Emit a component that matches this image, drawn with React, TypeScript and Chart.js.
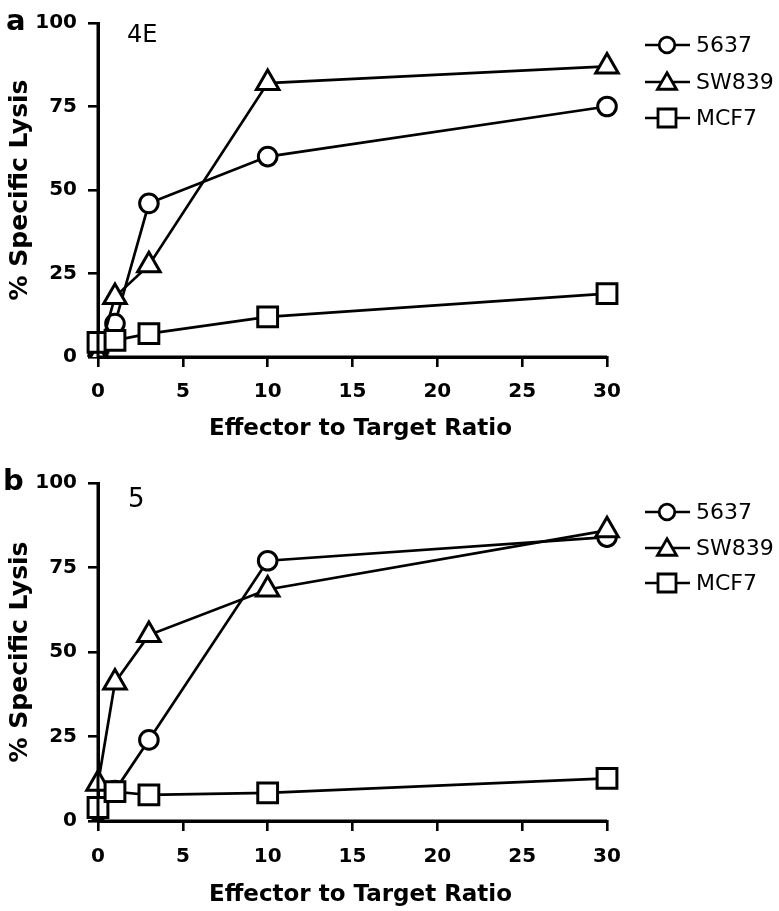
import React, { useEffect, useRef } from "react";
import { Chart, registerables } from "chart.js";

Chart.register(...registerables);

// ---------- data ----------
const ratios = [0, 1, 3, 10, 30];
const seriesNames = ["5637", "SW839", "MCF7"];

const panelA5637 = [0, 10, 46, 60, 75];
const panelASW839 = [0, 18, 27.5, 82, 87];
const panelAMCF7 = [4.4, 5, 7, 12, 19];

const panelB5637 = [3, 9, 24, 77, 84];
const panelBSW839 = [11, 41, 55, 68.5, 86];
const panelBMCF7 = [4, 8.7, 7.7, 8.3, 12.6];

const xTickValues = [0, 5, 10, 15, 20, 25, 30];
const yTickValues = [0, 25, 50, 75, 100];

const panelLetters = ["a", "b"];
const panelTags = ["4E", "5"];
const xTitle = "Effector to Target Ratio";
const yTitle = "% Specific Lysis";

// ---------- styling / layout ----------
const FONT = "DejaVu Sans";
const W = 779;

const markerStyles = [
  { pointStyle: "circle", radius: 9.3, legendSize: 7.8 },
  { pointStyle: "triangle", radius: 13, legendSize: 11 },
  { pointStyle: "rect", radius: 14, legendSize: 9 },
];

const panels = [
  {
    top: 0,
    height: 460,
    areaTop: 17,
    areaBottom: 357,
    tickPad: 13,
    titlePadBottom: 17,
    letter: { x: 6, y: 30 },
    tag: { x: 127, y: 42, size: 24 },
    legendY: [45, 82, 118],
    series: [panelA5637, panelASW839, panelAMCF7],
  },
  {
    top: 460,
    height: 451,
    areaTop: 23,
    areaBottom: 361,
    tickPad: 14,
    titlePadBottom: 2,
    letter: { x: 3, y: 30 },
    tag: { x: 128, y: 47, size: 26 },
    legendY: [52, 88, 123],
    series: [panelB5637, panelBSW839, panelBMCF7],
  },
];

function drawMarker(ctx: CanvasRenderingContext2D, style: string, x: number, y: number, s: number) {
  ctx.beginPath();
  if (style === "circle") {
    ctx.arc(x, y, s, 0, Math.PI * 2);
  } else if (style === "triangle") {
    const h = s * 1.5;
    const half = (s * Math.sqrt(3)) / 2;
    ctx.moveTo(x, y - h / 2 - 1);
    ctx.lineTo(x + half, y + h / 2 - 1);
    ctx.lineTo(x - half, y + h / 2 - 1);
    ctx.closePath();
  } else {
    ctx.rect(x - s, y - s, 2 * s, 2 * s);
  }
  ctx.fillStyle = "#fff";
  ctx.fill();
  ctx.lineWidth = 2.8;
  ctx.strokeStyle = "#000";
  ctx.stroke();
}

function Panel({ index }: { index: number }) {
  const ref = useRef<HTMLCanvasElement>(null);
  const cfg = panels[index];

  useEffect(() => {
    if (!ref.current) return;
    const overlay = {
      id: "overlay" + index,
      afterDatasetsDraw(chart: any) {
        const { ctx, chartArea } = chart;
        ctx.save();
        // axis lines on top of markers
        ctx.strokeStyle = "#000";
        ctx.lineWidth = 3;
        ctx.beginPath();
        ctx.moveTo(chartArea.left, chartArea.top);
        ctx.lineTo(chartArea.left, chartArea.bottom);
        ctx.moveTo(chartArea.left, chartArea.bottom);
        ctx.lineTo(chartArea.right, chartArea.bottom);
        ctx.stroke();

        // panel letter
        ctx.fillStyle = "#000";
        ctx.textBaseline = "alphabetic";
        ctx.textAlign = "left";
        ctx.font = `bold 29px "${FONT}"`;
        ctx.fillText(panelLetters[index], cfg.letter.x, cfg.letter.y);
        // tag
        ctx.font = `${cfg.tag.size}px "${FONT}"`;
        ctx.fillText(panelTags[index], cfg.tag.x, cfg.tag.y);

        // legend
        seriesNames.forEach((name, i) => {
          const y = cfg.legendY[i];
          ctx.strokeStyle = "#000";
          ctx.lineWidth = 2.6;
          ctx.beginPath();
          ctx.moveTo(645, y);
          ctx.lineTo(690, y);
          ctx.stroke();
          drawMarker(ctx, markerStyles[i].pointStyle, 667, y, markerStyles[i].legendSize);
          ctx.fillStyle = "#000";
          ctx.font = `22px "${FONT}"`;
          ctx.textBaseline = "middle";
          ctx.fillText(name, 696, y + 1);
        });
        ctx.restore();
      },
    };

    const datasets = seriesNames.map((name, i) => ({
      label: name,
      data: ratios.map((r, j) => ({ x: r, y: cfg.series[i][j] })),
      borderColor: "#000",
      borderWidth: 2.7,
      pointStyle: markerStyles[i].pointStyle,
      pointRadius: markerStyles[i].radius,
      pointHoverRadius: markerStyles[i].radius,
      pointBackgroundColor: "#fff",
      pointBorderColor: "#000",
      pointBorderWidth: 3,
      tension: 0,
      fill: false,
      order: 2 - i,
      clip: { left: false, top: false, right: false, bottom: 0 },
    }));

    const tickFont = { family: FONT, size: 20, weight: "bold" as const };
    const titleFont = { family: FONT, size: 23, weight: "bold" as const };
    const yTitleFont = { family: FONT, size: 25, weight: "bold" as const };

    const chart = new Chart(ref.current, {
      type: "line",
      data: { datasets: datasets as any },
      options: {
        responsive: false,
        animation: false,
        devicePixelRatio: 1,
        layout: { padding: { left: 0, right: W - 607, top: cfg.areaTop, bottom: 0 } },
        plugins: {
          legend: { display: false },
          tooltip: { enabled: false },
          title: { display: false },
        },
        scales: {
          x: {
            type: "linear",
            min: 0,
            max: 30,
            afterFit: (s: any) => {
              s.height = cfg.height - cfg.areaBottom;
            },
            afterBuildTicks: (s: any) => {
              s.ticks = xTickValues.map((v) => ({ value: v }));
            },
            grid: { drawOnChartArea: false, drawTicks: true, tickLength: 10, color: "#000", lineWidth: 2.6 },
            border: { display: true, color: "#000", width: 3 },
            ticks: { font: tickFont, color: "#000", padding: cfg.tickPad, maxRotation: 0, autoSkip: false },
            title: {
              display: true,
              text: "  " + xTitle,
              font: titleFont,
              color: "#000",
              padding: { top: 0, bottom: cfg.titlePadBottom },
            },
          },
          y: {
            type: "linear",
            min: 0,
            max: 100,
            afterFit: (s: any) => {
              s.width = 98;
            },
            afterBuildTicks: (s: any) => {
              s.ticks = yTickValues.map((v) => ({ value: v }));
            },
            grid: { drawOnChartArea: false, drawTicks: true, tickLength: 10, color: "#000", lineWidth: 2.6 },
            border: { display: true, color: "#000", width: 3 },
            ticks: { font: tickFont, color: "#000", padding: 11, autoSkip: false },
            title: {
              display: true,
              text: yTitle,
              font: yTitleFont,
              color: "#000",
              padding: { top: 5, bottom: 0 },
            },
          },
        },
      } as any,
      plugins: [overlay],
    });
    return () => chart.destroy();
  }, []);

  return (
    <div style={{ position: "absolute", left: 0, top: cfg.top, width: W, height: cfg.height }}>
      <canvas
        ref={ref}
        width={W}
        height={cfg.height}
        style={{ display: "block", width: W, height: cfg.height }}
      />
    </div>
  );
}

export default function App() {
  return (
    <div
      style={{
        position: "fixed",
        left: 0,
        top: 0,
        width: W,
        height: 911,
        background: "#fff",
        overflow: "hidden",
      }}
    >
      <Panel index={0} />
      <Panel index={1} />
    </div>
  );
}
